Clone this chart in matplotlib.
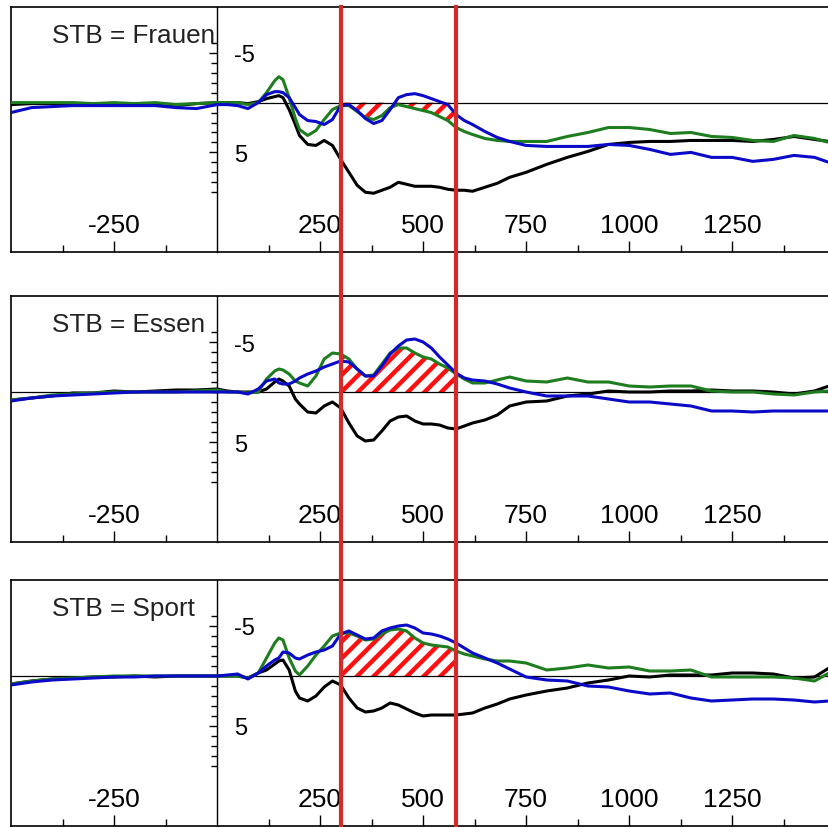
import matplotlib
matplotlib.use("Agg")
import matplotlib.pyplot as plt
from matplotlib import transforms
from matplotlib.lines import Line2D
from matplotlib.ticker import FixedLocator
import numpy as np

plt.rcParams["font.family"] = ["Liberation Sans", "DejaVu Sans"]
plt.rcParams["axes.unicode_minus"] = False
plt.rcParams["hatch.linewidth"] = 3.2

# time axis (ms) shared by all traces
t_ms = [-500, -450, -400, -350, -300, -250, -200, -150, -100, -50,
        0, 25, 50, 75, 100, 120, 140, 150, 160, 175,
        190, 200, 220, 240, 260, 280, 300, 320, 340, 360,
        380, 400, 420, 440, 460, 480, 500, 520, 540, 560,
        580, 600, 620, 650, 680, 710, 750, 800, 850, 900,
        950, 1000, 1050, 1100, 1150, 1200, 1250, 1300, 1350, 1400,
        1450, 1485]

# amplitudes in microvolts (negative up)
frauen_black = [0.2, 0.1, 0.1, 0.1, 0.1, 0.1, 0.2, 0.1, 0.3, 0.1,
                0.0, 0.0, 0.0, 0.1, -0.1, -0.4, -0.6, -0.7, -0.5, 0.7,
                2.2, 3.3, 4.2, 4.3, 3.8, 4.3, 5.7, 7.0, 8.3, 9.0,
                9.1, 8.8, 8.5, 8.0, 8.2, 8.4, 8.4, 8.4, 8.5, 8.7,
                8.8, 8.8, 8.9, 8.5, 8.1, 7.5, 7.0, 6.2, 5.5, 4.9,
                4.2, 4.0, 3.9, 3.9, 3.8, 3.8, 3.8, 3.9, 3.7, 3.4,
                3.7, 3.9]
frauen_green = [0.0, 0.0, 0.0, 0.0, 0.1, 0.0, 0.1, 0.0, 0.2, 0.1,
                0.0, 0.0, 0.0, 0.2, 0.0, -1.0, -2.2, -2.6, -2.3, -0.5,
                1.6, 2.7, 3.3, 2.8, 1.7, 0.7, 0.3, 0.3, 0.9, 1.5,
                1.7, 1.3, 0.5, 0.2, 0.4, 0.6, 0.8, 1.0, 1.4, 1.8,
                2.5, 2.9, 3.2, 3.6, 3.8, 3.9, 3.9, 3.9, 3.4, 3.0,
                2.5, 2.5, 2.7, 3.1, 3.0, 3.4, 3.5, 3.8, 3.9, 3.3,
                3.6, 4.0]
frauen_blue = [1.0, 0.5, 0.4, 0.3, 0.3, 0.3, 0.3, 0.3, 0.5, 0.6,
               0.2, 0.2, 0.3, 0.6, 0.0, -0.8, -1.1, -1.1, -1.0, -0.5,
               0.5, 1.2, 1.8, 1.9, 2.2, 1.7, 0.3, 0.2, 0.8, 1.6,
               2.1, 1.8, 0.7, -0.5, -0.8, -0.9, -0.7, -0.4, -0.1, 0.2,
               1.2, 1.8, 2.2, 2.9, 3.5, 3.9, 4.3, 4.4, 4.4, 4.4,
               4.2, 4.3, 4.7, 5.2, 5.0, 5.5, 5.5, 5.9, 5.7, 5.3,
               5.5, 6.0]

essen_black = [0.8, 0.6, 0.4, 0.1, 0.1, -0.1, 0.0, -0.1, -0.2, -0.2,
               -0.3, -0.1, 0.0, 0.0, 0.0, -0.3, -1.0, -1.3, -1.1, -0.6,
               0.7, 1.2, 2.0, 2.1, 1.4, 1.0, 1.6, 3.1, 4.4, 4.9,
               4.8, 3.9, 2.9, 2.5, 2.4, 2.9, 3.2, 3.2, 3.3, 3.6,
               3.7, 3.4, 3.1, 2.8, 2.3, 1.4, 1.0, 0.9, 0.4, 0.2,
               -0.1, 0.0, 0.0, -0.1, -0.1, -0.2, -0.1, -0.1, 0.0, 0.2,
               -0.1, -0.6]
essen_green = [0.8, 0.6, 0.3, 0.2, 0.1, 0.0, 0.0, 0.0, 0.0, -0.1,
               -0.2, 0.0, 0.0, 0.1, 0.0, -1.3, -2.1, -2.3, -2.2, -1.8,
               -1.1, -0.9, -0.6, -1.6, -3.3, -3.9, -3.8, -3.3, -2.3, -1.6,
               -1.7, -2.8, -3.9, -4.4, -4.4, -3.9, -3.5, -3.3, -2.8, -2.4,
               -1.8, -1.3, -0.9, -0.9, -1.2, -1.5, -1.1, -1.0, -1.4, -1.0,
               -1.0, -0.6, -0.5, -0.6, -0.6, -0.1, 0.0, 0.0, 0.2, 0.3,
               0.0, -0.1]
essen_blue = [0.9, 0.6, 0.4, 0.3, 0.2, 0.1, 0.0, 0.0, 0.0, 0.0,
              0.0, 0.0, 0.0, 0.2, -0.3, -1.1, -1.3, -0.9, -0.8, -0.8,
              -1.1, -1.4, -1.8, -2.1, -2.5, -2.8, -3.1, -3.0, -2.3, -1.6,
              -1.6, -2.6, -3.8, -4.6, -5.2, -5.3, -5.0, -4.4, -3.5, -2.7,
              -1.9, -1.4, -1.2, -1.1, -0.8, -0.4, 0.0, 0.4, 0.4, 0.4,
              0.7, 1.0, 1.0, 1.2, 1.4, 1.9, 1.9, 2.0, 1.9, 1.9,
              1.9, 1.9]

sport_black = [0.8, 0.5, 0.3, 0.2, 0.1, 0.1, 0.0, 0.1, 0.0, 0.0,
               0.0, 0.0, 0.0, 0.2, -0.3, -0.6, -1.2, -1.5, -1.6, -0.6,
               1.5, 2.2, 2.5, 2.0, 1.1, 0.5, 0.9, 2.2, 3.2, 3.6,
               3.5, 3.2, 2.7, 2.9, 3.3, 3.7, 4.0, 3.9, 3.9, 3.9,
               3.9, 3.8, 3.7, 3.2, 2.8, 2.3, 1.9, 1.5, 1.2, 0.7,
               0.4, 0.0, 0.1, -0.1, -0.1, -0.1, -0.3, -0.3, -0.2, 0.2,
               0.1, -0.8]
sport_green = [0.8, 0.5, 0.3, 0.2, 0.1, 0.0, 0.0, 0.0, 0.0, 0.0,
               0.0, 0.0, 0.0, 0.2, -0.3, -1.8, -3.3, -3.8, -3.6, -1.8,
               -0.5, -0.1, -1.0, -2.1, -3.0, -4.0, -4.3, -4.3, -4.0, -3.6,
               -3.7, -4.2, -4.6, -4.7, -4.5, -3.8, -3.3, -3.1, -3.0, -2.9,
               -2.5, -2.2, -2.0, -1.7, -1.5, -1.5, -1.3, -0.6, -0.8, -1.1,
               -0.8, -0.9, -0.5, -0.5, -0.6, 0.1, 0.1, 0.1, 0.1, 0.2,
               0.5, -0.3]
sport_blue = [0.9, 0.6, 0.4, 0.3, 0.2, 0.1, 0.1, 0.0, 0.0, 0.0,
              0.0, -0.1, -0.2, 0.3, -0.3, -1.0, -1.6, -1.8, -2.4, -2.3,
              -1.8, -1.7, -2.1, -2.4, -2.6, -3.0, -4.2, -4.5, -4.1, -3.7,
              -3.8, -4.5, -4.8, -5.0, -5.1, -4.8, -4.3, -4.2, -4.0, -3.7,
              -3.3, -2.8, -2.3, -1.8, -1.3, -0.7, 0.1, 0.4, 0.5, 1.0,
              1.1, 1.5, 1.8, 1.7, 2.2, 2.5, 2.4, 2.3, 2.3, 2.4,
              2.6, 2.5]

conditions = ["Frauen", "Essen", "Sport"]
black_traces = [frauen_black, essen_black, sport_black]
green_traces = [frauen_green, essen_green, sport_green]
blue_traces = [frauen_blue, essen_blue, sport_blue]

window_ms = [300, 580]
x_major = [-250, 250, 500, 750, 1000, 1250]
x_minor = [-375, -125, 125, 375, 625, 875, 1125, 1375]
y_major = [-5, 5]
y_minor = list(range(-6, 10))

W, H = 829, 828
fig = plt.figure(figsize=(W / 100, H / 100), dpi=100)

# panel extents in pixels (top, bottom)
panel_px = [(8, 253), (297, 543), (581, 827)]
left_px = 11

t = np.asarray(t_ms, dtype=float)
in_window = (t >= window_ms[0]) & (t <= window_ms[1])

axes = []
for i, name in enumerate(conditions):
    top, bot = panel_px[i]
    ax = fig.add_axes([left_px / W, 1 - bot / H, 1 - left_px / W, (bot - top) / H])
    ax.set_xlim(-500, 1485)
    ax.set_ylim(15.0, -9.6)

    for side in ("left", "top", "bottom"):
        ax.spines[side].set_linewidth(1.2)
    ax.spines["right"].set_visible(False)

    ax.tick_params(axis="y", left=False, labelleft=False)
    ax.xaxis.set_major_locator(FixedLocator(x_major))
    ax.xaxis.set_minor_locator(FixedLocator(x_minor))
    ax.tick_params(axis="x", which="major", direction="in", length=8, width=1,
                   pad=-28, labelsize=19)
    ax.tick_params(axis="x", which="minor", direction="in", length=5, width=1)

    # y axis drawn through t = 0
    yax = ax.secondary_yaxis(0, transform=ax.transData)
    yax.set_yticks(y_major)
    yax.yaxis.set_minor_locator(FixedLocator(y_minor))
    yax.spines["left"].set_linewidth(1.0)
    yax.tick_params(which="major", direction="out", length=6, width=1,
                    pad=-18, labelsize=17)
    yax.tick_params(which="minor", direction="out", length=4, width=1)
    for lab in yax.get_yticklabels():
        lab.set_horizontalalignment("left")

    ax.axhline(0, color="black", lw=0.9, zorder=2)

    green = np.asarray(green_traces[i])
    ax.fill_between(t, 0, green, where=in_window, facecolor="white",
                    edgecolor="#ff1010", hatch="//", linewidth=0, zorder=1)

    ax.plot(t, black_traces[i], color="black", lw=2.2, zorder=3)
    ax.plot(t, green_traces[i], color="#1e7d1e", lw=2.2, zorder=3)
    ax.plot(t, blue_traces[i], color="#0a0ac8", lw=2.2, zorder=4)

    ax.text(0.05, 0.885, f"STB = {name}", transform=ax.transAxes,
            fontsize=18.8, ha="left", va="center", color="#222222")
    axes.append(ax)

# analysis window markers run through all panels
for ms in window_ms:
    trans = transforms.blended_transform_factory(axes[0].transData, fig.transFigure)
    fig.add_artist(Line2D([ms, ms], [0, 1 - panel_px[0][0] / H], transform=trans,
                          color="#d42a2a", lw=3.0, zorder=10))

fig.savefig("out.png", dpi=100)
